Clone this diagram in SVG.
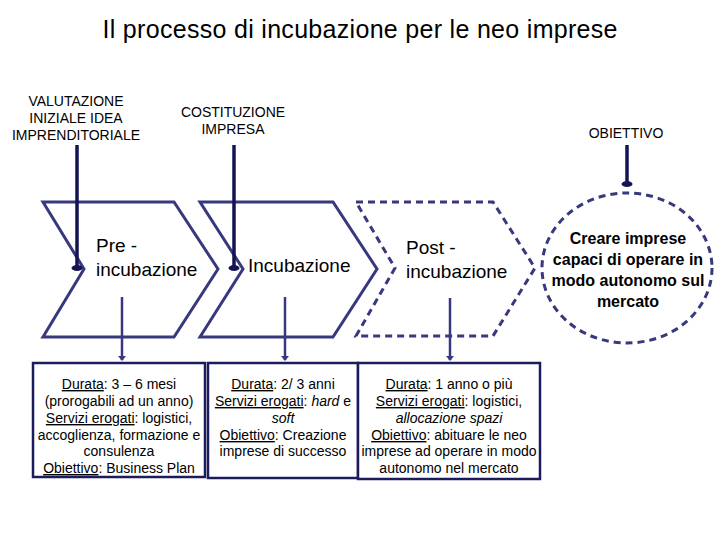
<svg xmlns="http://www.w3.org/2000/svg" width="720" height="540" viewBox="0 0 720 540">
<style>
text{font-family:"Liberation Sans",Arial,sans-serif;fill:#000}
.t{font-size:25px}
.lab{font-size:14px;text-anchor:middle}
.ch{font-size:19px}
.goal{font-size:16px;font-weight:bold;text-anchor:middle}
.bx{font-size:14px;text-anchor:middle}
.u{text-decoration:underline}
.it{font-style:italic}
.shape{fill:#fff;stroke:#38387e;stroke-width:3;stroke-linejoin:miter}
.dash{fill:#fff;stroke:#38387e;stroke-width:3;stroke-dasharray:7 5}
.box{fill:#fff;stroke:#1c1c5c;stroke-width:2.5}
.in{stroke:#141455;stroke-width:3.5;fill:none}
.down{stroke:#38387e;stroke-width:2.5;fill:none}
</style>
<defs>
<marker id="blob" markerUnits="userSpaceOnUse" markerWidth="14" markerHeight="10" refX="7" refY="3" orient="0" viewBox="0 0 14 10">
<ellipse cx="7" cy="3" rx="5.5" ry="3" fill="#141455"/>
</marker>
<marker id="tri" markerUnits="userSpaceOnUse" markerWidth="10" markerHeight="8" refX="4" refY="4" viewBox="0 0 8 8" orient="0">
<path d="M0,0 L8,0 L4,5 z" fill="#38387e"/>
</marker>
</defs>
<text class="t" x="360" y="38" text-anchor="middle" textLength="515" lengthAdjust="spacing">Il processo di incubazione per le neo imprese</text>

<g id="label-valutazione">
<text class="lab" x="76" y="106">VALUTAZIONE</text>
<text class="lab" x="76" y="123">INIZIALE IDEA</text>
<text class="lab" x="76" y="140">IMPRENDITORIALE</text>
</g>
<g id="label-costituzione">
<text class="lab" x="233" y="117">COSTITUZIONE</text>
<text class="lab" x="233" y="134">IMPRESA</text>
</g>
<g id="label-obiettivo">
<text class="lab" x="626" y="138">OBIETTIVO</text>
</g>

<g id="pre-incubazione">
<polygon class="shape" points="43,202 174,202 218,269 174,337 43,337 84,269"/>
<text class="ch" x="96" y="252">Pre -</text>
<text class="ch" x="96" y="276">incubazione</text>
</g>
<g id="incubazione">
<polygon class="shape" points="200,202 333,202 377,269 333,337 200,337 243,269"/>
<text class="ch" x="248" y="272">Incubazione</text>
</g>
<g id="post-incubazione">
<polygon class="dash" points="356,202 493,202 535,268 493,336 356,336 395,268"/>
<text class="ch" x="406" y="254">Post -</text>
<text class="ch" x="406" y="278">incubazione</text>
</g>
<g id="obiettivo-goal">
<ellipse class="dash" cx="627" cy="268" rx="85" ry="75"/>
<text class="goal" x="628" y="244">Creare imprese</text>
<text class="goal" x="628" y="265">capaci di operare in</text>
<text class="goal" x="628" y="286">modo autonomo sul</text>
<text class="goal" x="628" y="307">mercato</text>
</g>

<g id="box-pre">
<rect class="box" x="33" y="363" width="172" height="114"/>
<text class="bx" x="119" y="389"><tspan class="u">Durata</tspan>: 3 – 6 mesi</text>
<text class="bx" x="119" y="406">(prorogabili ad un anno)</text>
<text class="bx" x="119" y="423"><tspan class="u">Servizi erogati</tspan>: logistici,</text>
<text class="bx" x="119" y="440">accoglienza, formazione e</text>
<text class="bx" x="119" y="456">consulenza</text>
<text class="bx" x="119" y="473"><tspan class="u">Obiettivo</tspan>: Business Plan</text>
</g>
<g id="box-inc">
<rect class="box" x="208" y="363" width="150" height="115"/>
<text class="bx" x="283" y="389"><tspan class="u">Durata</tspan>: 2/ 3 anni</text>
<text class="bx" x="283" y="406"><tspan class="u">Servizi erogati</tspan>: <tspan class="it">hard</tspan> e</text>
<text class="bx" x="283" y="423" font-style="italic">soft</text>
<text class="bx" x="283" y="440"><tspan class="u">Obiettivo</tspan>: Creazione</text>
<text class="bx" x="283" y="456">imprese di successo</text>
</g>
<g id="box-post">
<rect class="box" x="358" y="363" width="182" height="116"/>
<text class="bx" x="449" y="389"><tspan class="u">Durata</tspan>: 1 anno o più</text>
<text class="bx" x="449" y="406"><tspan class="u">Servizi erogati</tspan>: logistici,</text>
<text class="bx" x="449" y="423" font-style="italic">allocazione spazi</text>
<text class="bx" x="449" y="440"><tspan class="u">Obiettivo</tspan>: abituare le neo</text>
<text class="bx" x="449" y="456">imprese ad operare in modo</text>
<text class="bx" x="449" y="473">autonomo nel mercato</text>
</g>

<g id="connectors">
<line class="in" x1="77" y1="145" x2="77" y2="268" marker-end="url(#blob)"/>
<line class="in" x1="234" y1="145" x2="234" y2="268" marker-end="url(#blob)"/>
<line class="in" x1="627" y1="145" x2="627" y2="184" marker-end="url(#blob)"/>
<line class="down" x1="122" y1="297" x2="122" y2="360" marker-end="url(#tri)"/>
<line class="down" x1="285" y1="297" x2="285" y2="360" marker-end="url(#tri)"/>
<line class="down" x1="450" y1="298" x2="450" y2="360" marker-end="url(#tri)"/>
</g>
</svg>
